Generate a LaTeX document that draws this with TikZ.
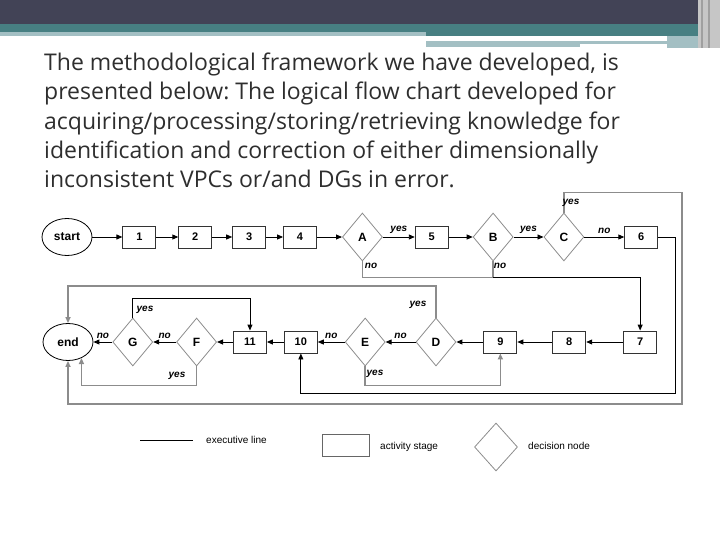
\documentclass[tikz,border=0pt]{standalone}
\usepackage{fontspec}
\setmainfont{Liberation Sans}
\newfontfamily\slidefont{Open Sans}
\usepackage{xcolor}
\usetikzlibrary{positioning,arrows.meta,shapes.geometric}
\definecolor{barDark}{HTML}{424356}
\definecolor{barTeal}{HTML}{477F82}
\definecolor{barLight}{HTML}{A3BFC3}
\definecolor{lineGray}{HTML}{8C8C8C}
\definecolor{textGray}{HTML}{2E2E2E}
\frenchspacing

\begin{document}
\begin{tikzpicture}[x=1pt,y=-1pt,>={Triangle[length=6pt,width=5pt]},
  box/.style={draw=black!80,line width=0.9pt,minimum width=33pt,minimum height=22pt,inner sep=0pt,font=\bfseries\fontsize{11}{11}\selectfont},
  dec/.style={draw=lineGray,line width=0.8pt,shape=diamond,minimum width=40pt,minimum height=48pt,inner sep=0pt,font=\bfseries\fontsize{12}{12}\selectfont},
  term/.style={draw,line width=0.8pt,ellipse,minimum width=50pt,minimum height=37pt,inner sep=0pt,font=\bfseries\fontsize{12}{12}\selectfont},
  lab/.style={font=\bfseries\itshape\fontsize{10}{10}\selectfont,inner sep=1pt},
  gl/.style={draw=lineGray,line width=1.6pt},
  bl/.style={line width=0.9pt},
  leg/.style={font=\fontsize{10}{10}\selectfont,anchor=west,inner sep=0pt}]
\useasboundingbox (0,0) rectangle (720,540);
% slide header
\fill[barDark] (0,0) rectangle (720,24);
\fill[barTeal] (0,24) rectangle (720,32);
\fill[barTeal] (426,32) rectangle (698,36);
\fill[barLight] (0,32) rectangle (426,36);
\fill[barLight] (426,41) rectangle (580,47);
\fill[barLight] (580,41) rectangle (667,44);
\fill[barLight] (667,36) rectangle (698,48);
\fill[gray!45] (698,0) rectangle (720,48);
\draw[gray!75,line width=1.5pt] (702,0) -- (702,48) (709,0) -- (709,48);
\node[anchor=north west,inner sep=0pt,align=left,text=textGray,font=\slidefont\fontsize{23}{29.2}\selectfont] (title) at (44,53)
  {The methodological framework we have developed, is\\presented below: The logical flow chart developed for\\acquiring/processing/storing/retrieving knowledge for\\identification and correction of either dimensionally\\inconsistent VPCs or/and DGs in error.};
% first row
\node[term] (start) at (67,237) {start};
\node[box,right=30pt of start] (n1) {1};
\node[box,right=22pt of n1] (n2) {2};
\node[box,right=20pt of n2] (n3) {3};
\node[box,right=17pt of n3] (n4) {4};
\node[dec,right=25pt of n4] (A) {A};
\node[box,right=32pt of A] (n5) {5};
\node[dec,right=24pt of n5] (B) {B};
\node[dec,right=30pt of B] (C) {C};
\node[box,right=40pt of C] (n6) {6};
\draw[->,bl] (start) -- (n1); \draw[->,bl] (n1) -- (n2); \draw[->,bl] (n2) -- (n3); \draw[->,bl] (n3) -- (n4); \draw[->,bl] (n4) -- (A);
\draw[->,bl] (A) -- node[lab,above=2pt] (lAy) {yes} (n5); \draw[->,bl] (n5) -- (B);
\draw[->,bl] (B) -- node[lab,above=2pt] (lBy) {yes} (C);
\draw[->,bl] (C) -- node[lab,above=2pt] (lCn) {no} (n6);
% second row
\node[term] (finish) at (68,342) {end};
\node[dec,right=19pt of finish] (G) {G};
\node[dec,right=23pt of G] (F) {F};
\node[box,right=16pt of F] (n11) {11};
\node[box,right=17pt of n11] (n10) {10};
\node[dec,right=27pt of n10] (E) {E};
\node[dec,right=30pt of E] (D) {D};
\node[box,right=27pt of D] (n9) {9};
\node[box,right=35pt of n9] (n8) {8};
\node[box,right=37pt of n8] (n7) {7};
\draw[->,bl] (n7) -- (n8); \draw[->,bl] (n8) -- (n9); \draw[->,bl] (n9) -- (D);
\draw[->,bl] (D) -- node[lab,above=2pt] (lDn) {no} (E);
\draw[->,bl] (E) -- node[lab,above=2pt] (lEn) {no} (n10);
\draw[->,bl] (n10) -- (n11); \draw[->,bl] (n11) -- (F);
\draw[->,bl] (F) -- node[lab,above=2pt] (lFn) {no} (G);
\draw[->,bl] (G) -- node[lab,above=2pt] (lGn) {no} (finish);
% loops
\draw[gl] (A.south) -- ++(0,16) coordinate (ano) -| (B.south);
\draw[->,bl] (ano -| B.south) -| (n7.north);
\draw[->,gl] (C.north) |- ++(118,-20) |- (68,404) -- (finish);
\draw[->,bl] (n6.east) -| ++(17,156) -| (n10.south);
\draw[->,gl] (D.north) |- (68,286) -- (finish);
\draw[->,bl] (G.north) -- ++(0,-19) -| (n11.north);
\draw[->,gl] (F.south) -- ++(0,19) -| (finish.-50);
\draw[->,gl] (E.south) -- ++(0,19) -| (n9.south);
\node[lab] (lAn) at (371,266) {no};
\node[lab] (lBn) at (500,266) {no};
\node[lab] (lCy) at (571,203) {yes};
\node[lab] (lDy) at (418,305) {yes};
\node[lab] (lEy) at (375,374) {yes};
\node[lab] (lFy) at (177,376) {yes};
\node[lab] (lGy) at (145,310) {yes};
% legend
\coordinate (legA) at (140,440); \coordinate (legB) at (193,440);
\draw[line width=0.8pt] (legA) -- (legB);
\node[leg] (legL) at (206,440) {executive line};
\node[draw=black!60,line width=0.9pt,minimum width=47pt,minimum height=22pt] (legBox) at (345.5,445) {};
\node[leg] (legT) at (380,447) {activity stage};
\node[dec,minimum width=43pt] (legD) at (496,447) {};
\node[leg] (legN) at (528,446) {decision node};
\end{tikzpicture}
\end{document}
